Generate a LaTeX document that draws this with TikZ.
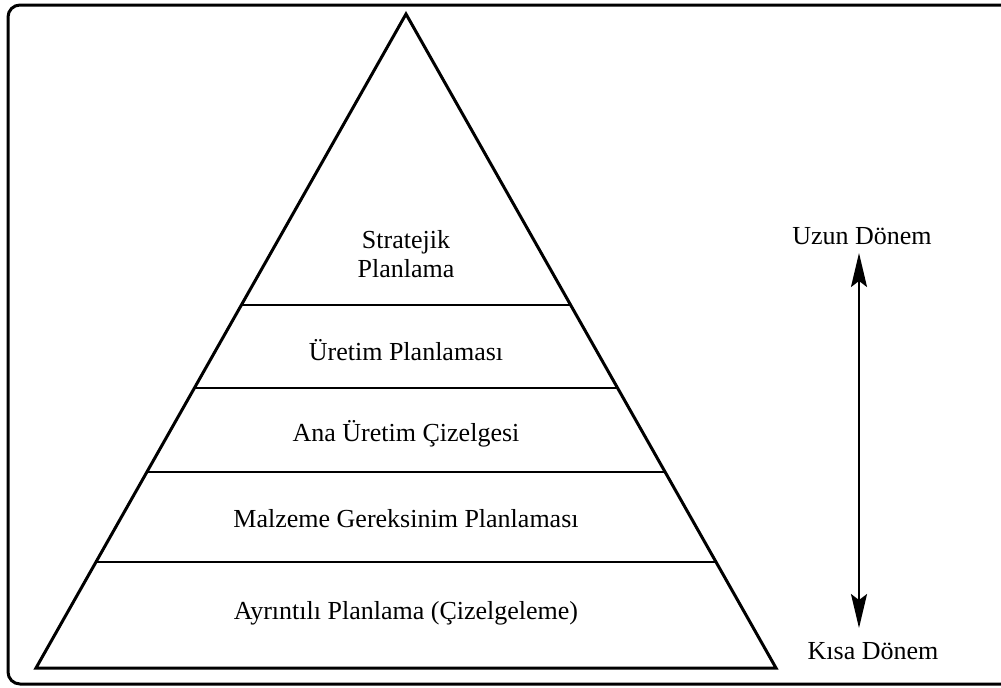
\documentclass[tikz,border=0pt]{standalone}
\usepackage{fontspec}
\setmainfont{Liberation Serif}
\usetikzlibrary{calc,arrows.meta}
\begin{document}
\begin{tikzpicture}[x=0.5pt,y=-0.5pt,
  lbl/.style={font=\fontsize{13}{14.5}\selectfont, inner sep=0pt, align=center},
  edge/.style={line width=1.5pt, line join=miter},
  band/.style={line width=1.1pt},
  dbl/.style={line width=1pt, {Stealth[length=17pt,width=8pt,inset=3pt]}-{Stealth[length=17pt,width=8pt,inset=3pt]}}]
\useasboundingbox (0,0) rectangle (1001,687);
% frame
\draw[line width=1.5pt, rounded corners=6pt] (1003,5) -- (8,5) -- (8,684) -- (1003,684);
% triangle
\coordinate (apex) at (406,14);
\coordinate (bl) at (36,668);
\coordinate (br) at (776,668);
\draw[edge] (apex) -- (bl) -- (br) -- cycle;
% band lines
\foreach \t/\n in {0.445/a,0.572/b,0.7/c,0.838/d}{
  \coordinate (l\n) at ($(apex)!\t!(bl)$);
  \coordinate (r\n) at ($(apex)!\t!(br)$);
  \draw[band] (l\n) -- (r\n);
}
% labels
\node[lbl] (strat) at (406,254) {Stratejik\\Planlama};
\node[lbl] (uret) at (406,350) {Üretim Planlaması};
\node[lbl] (ana) at (406,434) {Ana Üretim Çizelgesi};
\node[lbl] (mrp) at (406,519) {Malzeme Gereksinim Planlaması};
\node[lbl] (ayr) at (406,613) {Ayrıntılı Planlama (Çizelgeleme)};
\node[lbl] (uzun) at (862,236) {Uzun Dönem};
\node[lbl] (kisa) at (873,651) {Kısa Dönem};
% arrow
\coordinate (top) at (859,253);
\coordinate (bot) at (859,628);
\draw[dbl] (top) -- (bot);
\end{tikzpicture}
\end{document}
